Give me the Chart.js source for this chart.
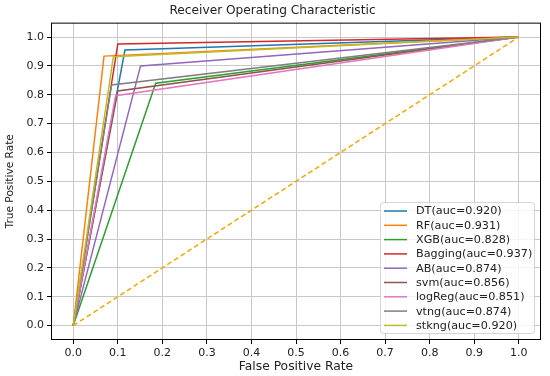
<!DOCTYPE html>
<html>
<head>
<meta charset="utf-8">
<script src="https://cdn.jsdelivr.net/npm/chart.js@4/dist/chart.umd.min.js"></script>
<style>
  html, body { margin: 0; padding: 0; background: #fff; }
  #wrap { width: 550px; height: 376px; position: relative; }
</style>
</head>
<body>
<div id="wrap"><canvas id="roc"></canvas></div>
<script>
// Models, their AUC and the single operating point of each ROC curve
const models = ['DT', 'RF', 'XGB', 'Bagging', 'AB', 'svm', 'logReg', 'vtng', 'stkng'];
const aucs = ['0.920', '0.931', '0.828', '0.937', '0.874', '0.856', '0.851', '0.874', '0.920'];
const fprPoints = [0.116, 0.069, 0.185, 0.100, 0.151, 0.100, 0.095, 0.086, 0.090];
const tprPoints = [0.955, 0.934, 0.840, 0.976, 0.900, 0.813, 0.797, 0.834, 0.932];
const colors = ['#1f77b4', '#ff7f0e', '#2ca02c', '#d62728', '#9467bd', '#8c564b', '#e377c2', '#7f7f7f', '#bcbd22'];

const xTicks = [0, 0.1, 0.2, 0.3, 0.4, 0.5, 0.6, 0.7, 0.8, 0.9, 1.0];
const yTicks = [0, 0.1, 0.2, 0.3, 0.4, 0.5, 0.6, 0.7, 0.8, 0.9, 1.0];

const FONT = 'DejaVu Sans';

// Build datasets: each curve goes (0,0) -> (fpr,tpr) -> (1,1)
const datasets = models.map((m, i) => ({
    label: m + '(auc=' + aucs[i] + ')',
    data: [{ x: 0, y: 0 }, { x: fprPoints[i], y: tprPoints[i] }, { x: 1, y: 1 }],
    borderColor: colors[i],
    borderWidth: 1.5,
    pointRadius: 0,
    tension: 0,
    order: models.length - i + 1,
}));
datasets.push({
    label: 'chance',
    data: [{ x: 0, y: 0 }, { x: 1, y: 1 }],
    borderColor: '#f5a800',
    borderWidth: 1.5,
    borderDash: [5, 3],
    pointRadius: 0,
    order: 0,
    isDiagonal: true,
});

// Frame round the plot area plus a matplotlib-like legend in the lower right
const framePlugin = {
    id: 'frame',
    afterDraw(chart) {
        const { ctx, chartArea: a } = chart;
        ctx.save();
        ctx.strokeStyle = '#000';
        ctx.lineWidth = 1;
        ctx.strokeRect(a.left + 0.5, a.top + 0.5, a.right - a.left - 1, a.bottom - a.top - 1);

        // legend
        const items = chart.data.datasets.filter(d => !d.isDiagonal);
        const rowH = 14.3;
        const boxW = 154, boxH = 131;
        const bx = a.right - boxW - 7, by = a.bottom - boxH - 7;
        ctx.globalAlpha = 0.8;
        ctx.fillStyle = '#fff';
        ctx.strokeStyle = '#ccc';
        ctx.beginPath();
        ctx.roundRect(bx + 0.5, by + 0.5, boxW, boxH, 3);
        ctx.fill();
        ctx.stroke();
        ctx.globalAlpha = 1;
        ctx.font = '11.2px "' + FONT + '"';
        ctx.textBaseline = 'middle';
        ctx.fillStyle = '#222';
        items.forEach((d, i) => {
            const y = by + 9 + rowH * i;
            ctx.strokeStyle = d.borderColor;
            ctx.lineWidth = 1.5;
            ctx.beginPath();
            ctx.moveTo(bx + 4, y);
            ctx.lineTo(bx + 27, y);
            ctx.stroke();
            ctx.fillText(d.label, bx + 36, y + 0.5);
        });
        ctx.restore();
    }
};

new Chart(document.getElementById('roc'), {
    type: 'line',
    data: { datasets },
    options: {
        responsive: true,
        maintainAspectRatio: false,
        animation: false,
        layout: { padding: { left: 4, right: 9, top: 0, bottom: 2 } },
        plugins: {
            legend: { display: false },
            tooltip: { enabled: false },
            title: {
                display: true,
                text: 'Receiver Operating Characteristic',
                color: '#222',
                font: { family: FONT, size: 12.2, weight: 'normal' },
                padding: { top: 4, bottom: 4 },
            },
        },
        scales: {
            x: {
                type: 'linear',
                min: -0.05,
                max: 1.05,
                afterBuildTicks: s => { s.ticks = xTicks.map(v => ({ value: v })); },
                afterFit: s => { s.height = 34; },
                ticks: {
                    color: '#222',
                    font: { family: FONT, size: 11 },
                    padding: 3,
                    maxRotation: 0,
                    callback: v => v.toFixed(1),
                },
                grid: { color: '#c8c8c8', lineWidth: 1, tickLength: 4, tickColor: '#000' },
                border: { display: false },
                title: {
                    display: true,
                    text: 'False Positive Rate',
                    color: '#222',
                    font: { family: FONT, size: 12.3 },
                    padding: { top: 0, bottom: 0 },
                },
            },
            y: {
                type: 'linear',
                min: -0.05,
                max: 1.05,
                afterBuildTicks: s => { s.ticks = yTicks.map(v => ({ value: v })); },
                afterFit: s => { s.width = 47; },
                ticks: {
                    color: '#222',
                    font: { family: FONT, size: 11 },
                    padding: 3,
                    callback: v => v.toFixed(1),
                },
                grid: { color: '#c8c8c8', lineWidth: 1, tickLength: 4, tickColor: '#000' },
                border: { display: false },
                title: {
                    display: true,
                    text: 'True Positive Rate',
                    color: '#222',
                    font: { family: FONT, size: 10.6 },
                    padding: { top: 0, bottom: 2 },
                },
            },
        },
    },
    plugins: [framePlugin],
});
</script>
</body>
</html>
